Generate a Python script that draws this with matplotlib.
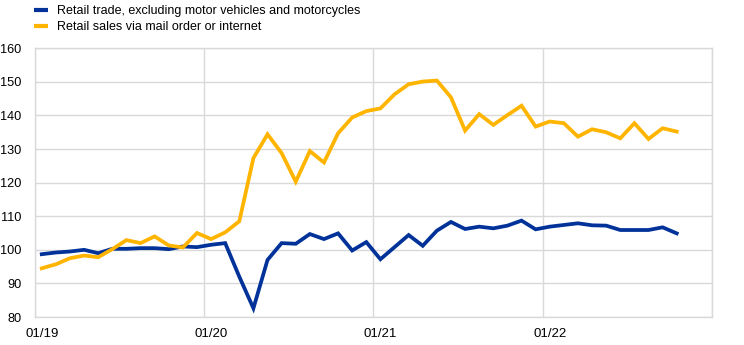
import matplotlib
matplotlib.use("Agg")
import matplotlib.pyplot as plt
from matplotlib.lines import Line2D
from matplotlib.ticker import FixedLocator, NullFormatter

plt.rcParams['font.family'] = ['Liberation Sans', 'DejaVu Sans']

months = list(range(46))  # Jan 2019 .. Oct 2022
retail_trade = [98.7, 99.2, 99.5, 100.0, 99.0, 100.3, 100.3, 100.5, 100.5, 100.2, 101.0, 100.8,
                101.5, 102.0, 92.0, 82.6, 97.0, 102.0, 101.8, 104.7, 103.2, 104.9, 99.8, 102.3,
                97.2, 100.8, 104.4, 101.2, 105.7, 108.3, 106.2, 106.9, 106.4, 107.2, 108.7, 106.1,
                106.9, 107.4, 107.9, 107.3, 107.2, 105.9, 105.9, 105.9, 106.7, 104.9]
mail_order = [94.5, 95.7, 97.5, 98.3, 97.8, 100.2, 102.9, 102.0, 104.0, 101.3, 100.7, 105.0,
              103.2, 105.2, 108.5, 127.3, 134.4, 128.8, 120.3, 129.4, 126.0, 134.7, 139.4, 141.3,
              142.1, 146.3, 149.3, 150.1, 150.4, 145.4, 135.5, 140.4, 137.2, 140.1, 142.9, 136.7,
              138.2, 137.7, 133.7, 135.9, 135.0, 133.2, 137.7, 133.0, 136.2, 135.2]
series_names = ["Retail trade, excluding motor vehicles and motorcycles",
                "Retail sales via mail order or internet"]
x_labels = ["01/19", "01/20", "01/21", "01/22"]
y_ticks = [80, 90, 100, 110, 120, 130, 140, 150, 160]

blue = "#003299"
yellow = "#FFB400"
grid_c = "#d9d9d9"

fig = plt.figure(figsize=(7.44, 3.45), dpi=100)
ax = fig.add_axes([34.7/744, 1-317/345, (712-34.7)/744, (317-48.3)/345])

xs = [m + 0.5 for m in months]
ax.plot(xs, retail_trade, color=blue, lw=2.7, solid_joinstyle='miter', zorder=3)
ax.plot(xs, mail_order, color=yellow, lw=2.7, solid_joinstyle='miter', zorder=3)

ax.set_xlim(0, 48)
ax.set_ylim(80, 160)
ax.set_yticks(y_ticks)
ax.set_yticklabels([str(v) for v in y_ticks], fontsize=9.2)
ax.xaxis.set_major_locator(FixedLocator([0, 12, 24, 36, 48]))
ax.xaxis.set_major_formatter(NullFormatter())
ax.xaxis.set_minor_locator(FixedLocator([0.5 + 12*i for i in range(len(x_labels))]))
ax.set_xticklabels(x_labels, minor=True, fontsize=9.5)
ax.tick_params(axis='both', which='both', length=0)
ax.tick_params(axis='y', pad=9.5)
ax.tick_params(axis='x', which='minor', pad=8)
ax.grid(True, which='major', color=grid_c, lw=1.0)
ax.set_axisbelow(True)
for s in ax.spines.values():
    s.set_color(grid_c)
    s.set_linewidth(1.0)

handles = [Line2D([], [], color=blue, lw=3.0, solid_capstyle='butt'),
           Line2D([], [], color=yellow, lw=3.0, solid_capstyle='butt')]
fig.legend(handles, series_names, loc='upper left', bbox_to_anchor=(34.3/744, 0.985),
           frameon=False, fontsize=9.0, handlelength=1.12, handletextpad=0.67,
           labelspacing=0.3, borderaxespad=0, borderpad=0)

fig.savefig("out.png", dpi=100)
